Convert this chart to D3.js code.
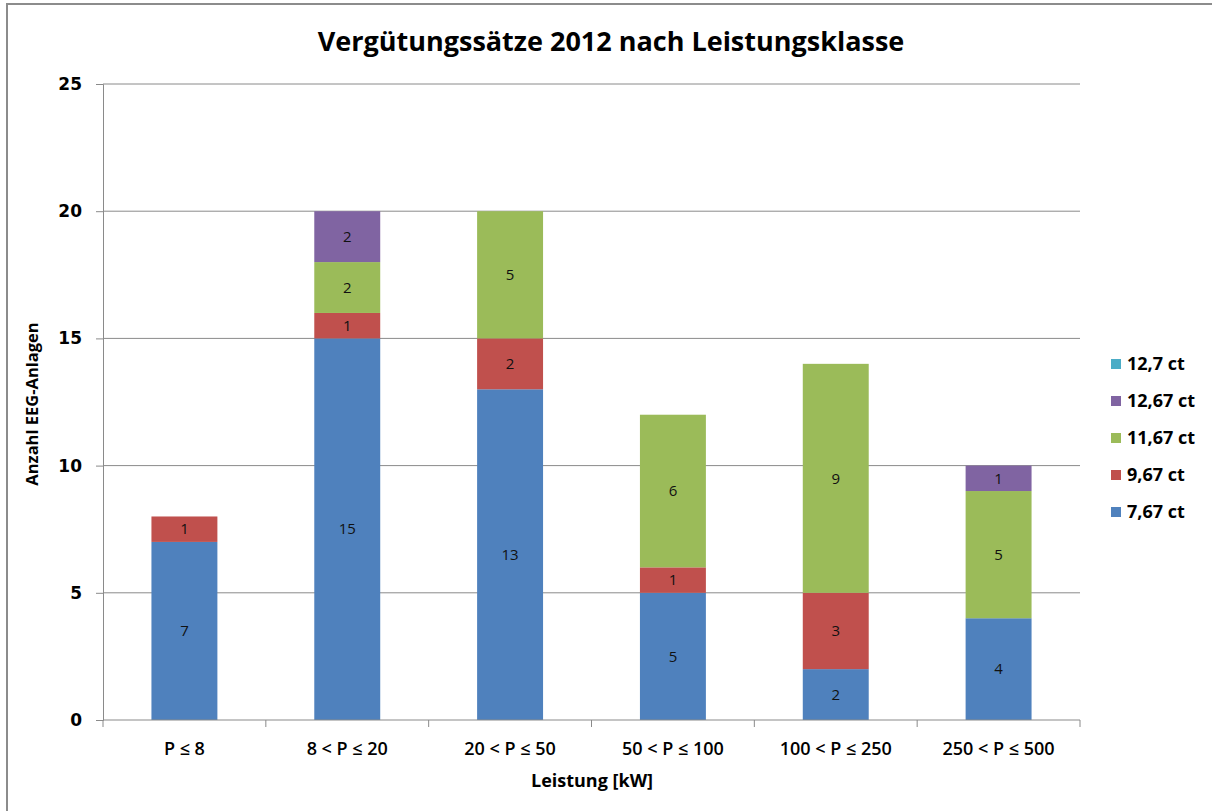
<!DOCTYPE html>
<html>
<head>
<meta charset="utf-8">
<script src="https://cdn.jsdelivr.net/npm/d3@7"></script>
<style>
  body { margin: 0; background: #fff; }
  svg { display: block; }
</style>
</head>
<body>
<div id="chart"></div>
<script>
// chart values
var categories = ["P ≤ 8", "8 < P ≤ 20", "20 < P ≤ 50", "50 < P ≤ 100", "100 < P ≤ 250", "250 < P ≤ 500"];
var seriesNames = ["7,67 ct", "9,67 ct", "11,67 ct", "12,67 ct", "12,7 ct"];
var s767  = [7, 15, 13, 5, 2, 4];
var s967  = [1, 1, 2, 1, 3, 0];
var s1167 = [0, 2, 5, 6, 9, 5];
var s1267 = [0, 2, 0, 0, 0, 1];
var s127  = [0, 0, 0, 0, 0, 0];
var yTicks = [0, 5, 10, 15, 20, 25];
var colors = ["#4F81BD", "#C0504D", "#9BBB59", "#8064A2", "#4BACC6"];

var W = 1212, H = 811;
var margin = {top: 84, right: 132, bottom: 91, left: 103};
var width  = W - margin.left - margin.right;
var height = H - margin.top - margin.bottom;

var allSeries = [s767, s967, s1167, s1267, s127];
var rows = categories.map(function(c, i) {
  var r = {cat: c};
  seriesNames.forEach(function(n, k) { r[n] = allSeries[k][i]; });
  return r;
});
var stacked = d3.stack().keys(seriesNames)(rows);

var font = "Open Sans, sans-serif";

var svg = d3.select("#chart").append("svg")
  .attr("width", W)
  .attr("height", H);

// outer frame
svg.append("rect")
  .attr("x", 7).attr("y", 4)
  .attr("width", W + 10).attr("height", H + 10)
  .attr("fill", "none")
  .attr("stroke", "#8c8c8c")
  .attr("stroke-width", 2);

var g = svg.append("g")
  .attr("transform", "translate(" + margin.left + "," + margin.top + ")");

var x = d3.scaleBand()
  .domain(categories)
  .range([0, width])
  .paddingInner(0.595)
  .paddingOuter(0.2975);

var y = d3.scaleLinear()
  .domain([0, 25])
  .range([height, 0]);

// gridlines
g.selectAll(".grid").data(yTicks.filter(function(t) { return t > 0; }))
  .enter().append("line")
  .attr("x1", 0).attr("x2", width)
  .attr("y1", function(d) { return y(d); })
  .attr("y2", function(d) { return y(d); })
  .attr("stroke", "#8a8a8a")
  .attr("stroke-width", 1);

// y axis
var yAxis = d3.axisLeft(y).tickValues(yTicks).tickSize(7).tickPadding(14);
var yg = g.append("g").attr("class", "y axis").call(yAxis);
yg.select(".domain").attr("stroke", "#8a8a8a");
yg.selectAll(".tick line").attr("stroke", "#8a8a8a");
yg.selectAll(".tick text")
  .attr("font-family", "DejaVu Sans, Verdana, sans-serif")
  .attr("font-weight", "bold")
  .attr("font-size", "17px")
  .attr("fill", "#000");

// bars
var layers = g.selectAll(".layer").data(stacked)
  .enter().append("g")
  .attr("class", "layer")
  .attr("fill", function(d, i) { return colors[i]; });

layers.selectAll("rect")
  .data(function(d) { return d; })
  .enter().append("rect")
  .attr("x", function(d) { return x(d.data.cat); })
  .attr("width", x.bandwidth())
  .attr("y", function(d) { return y(d[1]); })
  .attr("height", function(d) { return y(d[0]) - y(d[1]); });

// data labels
layers.selectAll("text")
  .data(function(d) { return d.filter(function(p) { return p[1] - p[0] > 0; }); })
  .enter().append("text")
  .attr("x", function(d) { return x(d.data.cat) + x.bandwidth() / 2; })
  .attr("y", function(d) { return (y(d[0]) + y(d[1])) / 2; })
  .attr("dy", "0.35em")
  .attr("text-anchor", "middle")
  .attr("font-family", font)
  .attr("font-size", "15px")
  .attr("fill", "#111")
  .text(function(d) { return d[1] - d[0]; });

// x axis
var xg = g.append("g").attr("class", "x axis")
  .attr("transform", "translate(0," + height + ")");
xg.append("line")
  .attr("x1", 0).attr("x2", width)
  .attr("stroke", "#8a8a8a");
var bounds = categories.map(function(c) { return x(c) - x.step() * x.paddingOuter(); });
bounds.push(width);
xg.selectAll(".tk").data(bounds)
  .enter().append("line")
  .attr("x1", function(d) { return d; })
  .attr("x2", function(d) { return d; })
  .attr("y1", 0).attr("y2", 7)
  .attr("stroke", "#8a8a8a");
xg.selectAll(".lbl").data(categories)
  .enter().append("text")
  .attr("x", function(d) { return x(d) + x.bandwidth() / 2; })
  .attr("y", 35)
  .attr("text-anchor", "middle")
  .attr("font-family", font)
  .attr("font-weight", "600")
  .attr("font-size", "18px")
  .attr("fill", "#000")
  .text(function(d) { return d; });

// titles
svg.append("text")
  .attr("x", 611).attr("y", 51)
  .attr("text-anchor", "middle")
  .attr("font-family", font)
  .attr("font-weight", "bold")
  .attr("font-size", "27px")
  .text("Vergütungssätze 2012 nach Leistungsklasse");

svg.append("text")
  .attr("x", 592).attr("y", 787)
  .attr("text-anchor", "middle")
  .attr("font-family", font)
  .attr("font-weight", "bold")
  .attr("font-size", "18px")
  .text("Leistung [kW]");

svg.append("text")
  .attr("transform", "translate(38,404) rotate(-90)")
  .attr("text-anchor", "middle")
  .attr("font-family", font)
  .attr("font-weight", "bold")
  .attr("font-size", "16.5px")
  .text("Anzahl EEG-Anlagen");

// legend (reverse order, top = last series)
var legend = svg.append("g").attr("transform", "translate(1111,364)");
var legItems = legend.selectAll(".item")
  .data(seriesNames.slice().reverse())
  .enter().append("g")
  .attr("transform", function(d, i) { return "translate(0," + (i * 37) + ")"; });
legItems.append("rect")
  .attr("x", 0).attr("y", -5)
  .attr("width", 10).attr("height", 10)
  .attr("fill", function(d) { return colors[seriesNames.indexOf(d)]; });
legItems.append("text")
  .attr("x", 16).attr("y", 0)
  .attr("dy", "0.35em")
  .attr("font-family", font)
  .attr("font-weight", "bold")
  .attr("font-size", "18px")
  .text(function(d) { return d; });
</script>
</body>
</html>
